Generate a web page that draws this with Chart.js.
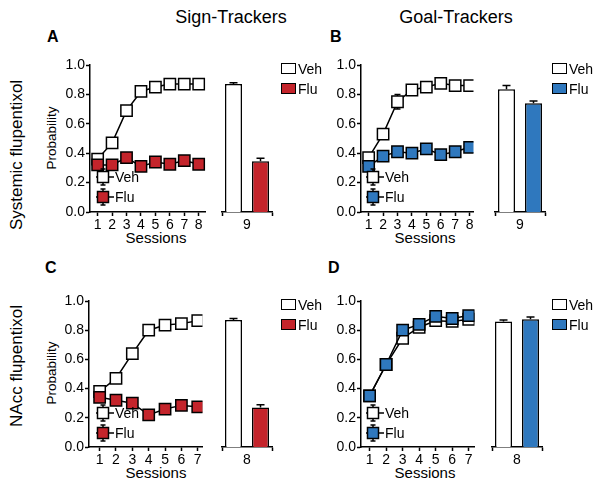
<!DOCTYPE html>
<html lang="en">
<head>
  <meta charset="UTF-8">
  <title>Flupentixol - Sign-Trackers / Goal-Trackers</title>
  <script src="https://cdn.jsdelivr.net/npm/chart.js"></script>
  <style>
    body {
      margin: 0;
      background: #fff;
      font-family: Arial, "Liberation Sans", sans-serif;
    }
    #fig {
      position: relative;
      width: 600px;
      height: 483px;
      overflow: hidden;
    }
    canvas { position: absolute; }
    .txt {
      position: absolute;
      color: #000;
      white-space: nowrap;
      line-height: 1;
    }
    .ctr { transform: translate(-50%, -50%); }
    .rot { transform: translate(-50%, -50%) rotate(-90deg); }
    .letter { font-weight: bold; font-size: 16px; }
    .lg {
      position: absolute;
      display: flex;
      align-items: center;
      font-size: 14px;
      height: 16px;
      line-height: 16px;
    }
    .lg .box {
      box-sizing: border-box;
      width: 15px;
      height: 11px;
      border: 1.5px solid #000;
      margin-right: 2px;
    }
  </style>
</head>
<body>
<div id="fig">
  <div class="txt ctr" style="left:231px;top:17px;font-size:18px;">Sign-Trackers</div>
  <div class="txt ctr" style="left:456px;top:17px;font-size:18px;">Goal-Trackers</div>

  <div class="txt letter" style="left:47px;top:29px;">A</div>
  <div class="txt letter" style="left:330px;top:29px;">B</div>
  <div class="txt letter" style="left:45px;top:260px;">C</div>
  <div class="txt letter" style="left:328px;top:260px;">D</div>

  <div class="txt rot" style="left:16px;top:155px;font-size:17px;">Systemic flupentixol</div>
  <div class="txt rot" style="left:16px;top:366px;font-size:17px;">NAcc flupentixol</div>

  <div class="txt rot" style="left:52px;top:138px;font-size:13.5px;">Probability</div>
  <div class="txt rot" style="left:52px;top:373px;font-size:13.5px;">Probability</div>

  <div class="txt ctr" style="left:156px;top:237px;font-size:15px;">Sessions</div>
  <div class="txt ctr" style="left:425px;top:237px;font-size:15px;">Sessions</div>
  <div class="txt ctr" style="left:156px;top:472px;font-size:15px;">Sessions</div>
  <div class="txt ctr" style="left:425px;top:472px;font-size:15px;">Sessions</div>

  <canvas id="lineA" width="175" height="190" style="left:40px;top:55px;"></canvas>
  <canvas id="barA" width="60" height="190" style="left:218px;top:55px;"></canvas>
  <canvas id="lineB" width="172" height="190" style="left:311px;top:55px;"></canvas>
  <canvas id="barB" width="60" height="190" style="left:491px;top:55px;"></canvas>
  <canvas id="lineC" width="173" height="189" style="left:39px;top:291px;"></canvas>
  <canvas id="barC" width="60" height="189" style="left:218px;top:291px;"></canvas>
  <canvas id="lineD" width="173" height="189" style="left:311px;top:291px;"></canvas>
  <canvas id="barD" width="60" height="189" style="left:488px;top:291px;"></canvas>
</div>

<script>
  // ---- data ----
  const RED = '#c4242b';
  const BLUE = '#2f78be';
  const groups = ['Veh', 'Flu'];
  const probTicks = [0, 0.2, 0.4, 0.6, 0.8, 1.0];

  // A: sign-trackers, systemic
  const sessionsA = [1, 2, 3, 4, 5, 6, 7, 8];
  const vehA = [0.36, 0.47, 0.69, 0.82, 0.85, 0.87, 0.87, 0.87];
  const vehErrA = [0.02, 0.02, 0.02, 0.02, 0.01, 0.01, 0.01, 0.01];
  const fluA = [0.32, 0.32, 0.37, 0.31, 0.34, 0.325, 0.35, 0.325];
  const fluErrA = [0.02, 0.02, 0.02, 0.02, 0.02, 0.02, 0.02, 0.02];
  const testLabelA = ['9'];
  const testA = [0.87, 0.345];
  const testErrA = [0.01, 0.02];

  // B: goal-trackers, systemic
  const sessionsB = [1, 2, 3, 4, 5, 6, 7, 8];
  const vehB = [0.37, 0.53, 0.75, 0.83, 0.85, 0.875, 0.86, 0.86];
  const vehErrB = [0.02, 0.03, 0.05, 0.02, 0.01, 0.01, 0.01, 0.01];
  const fluB = [0.31, 0.38, 0.41, 0.40, 0.43, 0.39, 0.41, 0.44];
  const fluErrB = [0.02, 0.02, 0.02, 0.02, 0.02, 0.02, 0.02, 0.02];
  const testLabelB = ['9'];
  const testB = [0.835, 0.74];
  const testErrB = [0.025, 0.015];

  // C: sign-trackers, NAcc
  const sessionsC = [1, 2, 3, 4, 5, 6, 7];
  const vehC = [0.38, 0.47, 0.64, 0.80, 0.835, 0.845, 0.865];
  const vehErrC = [0.02, 0.02, 0.03, 0.02, 0.01, 0.01, 0.01];
  const fluC = [0.34, 0.32, 0.30, 0.22, 0.26, 0.285, 0.275];
  const fluErrC = [0.02, 0.02, 0.02, 0.02, 0.02, 0.02, 0.02];
  const testLabelC = ['8'];
  const testC = [0.87, 0.27];
  const testErrC = [0.01, 0.02];

  // D: goal-trackers, NAcc
  const sessionsD = [1, 2, 3, 4, 5, 6, 7];
  const vehD = [0.35, 0.565, 0.745, 0.82, 0.865, 0.86, 0.875];
  const vehErrD = [0.02, 0.02, 0.03, 0.02, 0.02, 0.02, 0.02];
  const fluD = [0.35, 0.565, 0.80, 0.84, 0.895, 0.88, 0.90];
  const fluErrD = [0.02, 0.02, 0.02, 0.02, 0.02, 0.02, 0.02];
  const testLabelD = ['8'];
  const testD = [0.86, 0.875];
  const testErrD = [0.01, 0.015];

  const FONT = 'Arial, "Liberation Sans", sans-serif';

  // draws SEM whiskers from dataset.err through the y scale
  const errorBars = {
    id: 'errorBars',
    beforeDatasetsDraw(chart) {
      const ctx = chart.ctx;
      const y = chart.scales.y;
      const isBar = chart.config.type === 'bar';
      ctx.save();
      ctx.strokeStyle = '#000';
      ctx.lineWidth = 1.5;
      chart.data.datasets.forEach((ds, i) => {
        if (!ds.err) return;
        const meta = chart.getDatasetMeta(i);
        meta.data.forEach((el, j) => {
          const v = isBar ? ds.data[j] : ds.data[j].y;
          const e = ds.err[j];
          const top = y.getPixelForValue(v + e);
          const bot = isBar ? y.getPixelForValue(v) : y.getPixelForValue(v - e);
          const cap = isBar ? 4 : 3;
          ctx.beginPath();
          ctx.moveTo(el.x, top); ctx.lineTo(el.x, bot);
          ctx.moveTo(el.x - cap, top); ctx.lineTo(el.x + cap, top);
          if (!isBar) { ctx.moveTo(el.x - cap, bot); ctx.lineTo(el.x + cap, bot); }
          ctx.stroke();
        });
      });
      ctx.restore();
    }
  };

  const axisGrid = { drawOnChartArea: false, tickLength: 4, tickWidth: 1.5, tickColor: '#000' };
  const axisBorder = { color: '#000', width: 1.5 };

  function makeLine(id, sessions, veh, vehErr, flu, fluErr, color, xMin, xMax) {
    const pts = arr => sessions.map((s, i) => ({ x: s, y: arr[i] }));
    const ds = (label, arr, err, fill) => ({
      label: label,
      data: pts(arr),
      err: err,
      borderColor: '#000',
      borderWidth: 1.5,
      pointStyle: 'rect',
      pointRadius: 8,
      pointBorderWidth: 1.5,
      pointBorderColor: '#000',
      pointBackgroundColor: fill
    });
    new Chart(document.getElementById(id), {
      type: 'line',
      // Flu first so it is drawn on top
      data: { datasets: [ds(groups[1], flu, fluErr, color), ds(groups[0], veh, vehErr, '#fff')] },
      options: {
        responsive: false,
        animation: false,
        layout: { padding: { top: 10, right: 5, left: 0, bottom: 0 } },
        plugins: { legend: { display: false }, tooltip: { enabled: false } },
        scales: {
          x: {
            type: 'linear', min: xMin, max: xMax,
            afterBuildTicks: s => { s.ticks = sessions.map(v => ({ value: v })); },
            afterFit: s => { s.height = 33; },
            grid: axisGrid, border: axisBorder,
            ticks: { color: '#000', font: { family: FONT, size: 14 }, padding: 1, maxRotation: 0, autoSkip: false }
          },
          y: {
            min: 0, max: 1,
            afterBuildTicks: s => { s.ticks = probTicks.map(v => ({ value: v })); },
            afterFit: s => { s.width = 50; },
            grid: axisGrid, border: axisBorder,
            ticks: { color: '#000', font: { family: FONT, size: 14 }, padding: 1, callback: v => v.toFixed(1) }
          }
        }
      },
      plugins: [errorBars]
    });
  }

  function makeBar(id, label, vals, errs, color) {
    new Chart(document.getElementById(id), {
      type: 'bar',
      data: {
        labels: label,
        datasets: [
          { label: groups[0], data: [vals[0]], err: [errs[0]], backgroundColor: '#fff', borderColor: '#000', borderWidth: 1.5, borderSkipped: 'bottom' },
          { label: groups[1], data: [vals[1]], err: [errs[1]], backgroundColor: color, borderColor: '#000', borderWidth: 1.5, borderSkipped: 'bottom' }
        ]
      },
      options: {
        responsive: false,
        animation: false,
        categoryPercentage: 1.08,
        barPercentage: 0.63,
        layout: { padding: { top: 10, right: 6, left: 4, bottom: 0 } },
        plugins: { legend: { display: false }, tooltip: { enabled: false } },
        scales: {
          x: {
            afterFit: s => { s.height = 33; },
            grid: axisGrid, border: axisBorder,
            ticks: { color: '#000', font: { family: FONT, size: 14 }, padding: 1 }
          },
          y: { display: false, min: 0, max: 1 }
        }
      },
      plugins: [errorBars]
    });
  }

  makeLine('lineA', sessionsA, vehA, vehErrA, fluA, fluErrA, RED, 0.47, 8.47);
  makeBar('barA', testLabelA, testA, testErrA, RED);
  makeLine('lineB', sessionsB, vehB, vehErrB, fluB, fluErrB, BLUE, 0.47, 8.27);
  makeBar('barB', testLabelB, testB, testErrB, BLUE);
  makeLine('lineC', sessionsC, vehC, vehErrC, fluC, fluErrC, RED, 0.35, 7.29);
  makeBar('barC', testLabelC, testC, testErrC, RED);
  makeLine('lineD', sessionsD, vehD, vehErrD, fluD, fluErrD, BLUE, 0.48, 7.35);
  makeBar('barD', testLabelD, testD, testErrD, BLUE);

  // ---- legends ----
  const fig = document.getElementById('fig');

  function marker(fill) {
    return '<svg width="20" height="22" viewBox="0 0 20 22">' +
      '<line x1="8" y1="3" x2="8" y2="19" stroke="#000" stroke-width="1.5"/>' +
      '<line x1="5.5" y1="3" x2="10.5" y2="3" stroke="#000" stroke-width="1.5"/>' +
      '<line x1="5.5" y1="19" x2="10.5" y2="19" stroke="#000" stroke-width="1.5"/>' +
      '<line x1="1" y1="11" x2="19" y2="11" stroke="#000" stroke-width="1.5"/>' +
      '<rect x="2.5" y="5.5" width="11" height="11" fill="' + fill + '" stroke="#000" stroke-width="1.5"/>' +
      '</svg>';
  }

  function inLegend(cx, cy, fill, text) {
    const d = document.createElement('div');
    d.className = 'lg';
    d.style.left = (cx - 8) + 'px';
    d.style.top = (cy - 11) + 'px';
    d.style.height = '22px';
    d.innerHTML = marker(fill) + '<span>' + text + '</span>';
    fig.appendChild(d);
  }

  function boxLegend(x, cy, fill, text) {
    const d = document.createElement('div');
    d.className = 'lg';
    d.style.left = x + 'px';
    d.style.top = (cy - 8) + 'px';
    d.innerHTML = '<div class="box" style="background:' + fill + '"></div><span>' + text + '</span>';
    fig.appendChild(d);
  }

  [[103, 177, RED], [373, 177, BLUE], [103, 413, RED], [373, 413, BLUE]].forEach(p => {
    inLegend(p[0], p[1], '#fff', groups[0]);
    inLegend(p[0], p[1] + 20, p[2], groups[1]);
  });

  [[281, 68.5, RED], [552, 68.5, BLUE], [281, 304.5, RED], [552, 304.5, BLUE]].forEach(p => {
    boxLegend(p[0], p[1], '#fff', groups[0]);
    boxLegend(p[0], p[1] + 20, p[2], groups[1]);
  });
</script>
</body>
</html>
